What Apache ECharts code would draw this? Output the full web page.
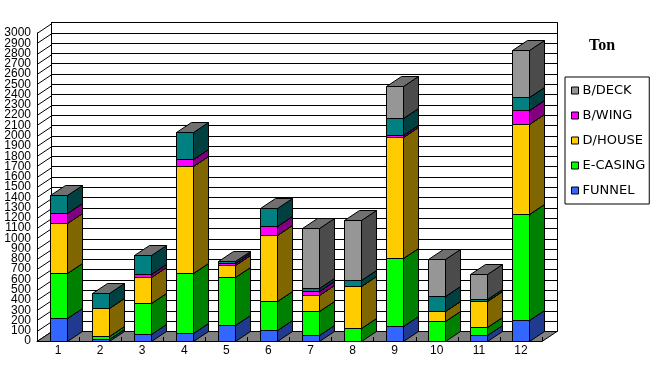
<!DOCTYPE html>
<html>
<head>
<meta charset="utf-8">
<title>Ton</title>
<style>
  html, body { margin: 0; padding: 0; background: #fff; }
  #main { width: 657px; height: 379px; }
</style>
<script src="https://cdn.jsdelivr.net/npm/echarts@6/dist/echarts.min.js"></script>
</head>
<body>
<div id="main"></div>
<script>
const categories = ['1', '2', '3', '4', '5', '6', '7', '8', '9', '10', '11', '12'];

// segment heights, bottom of the stack first
const funnel = [228, 20, 72, 81, 159, 111, 62, 0, 150, 0, 62, 208];
const eCasing = [439, 32, 302, 586, 469, 282, 234, 130, 663, 198, 78, 1025];
const dHouse = [478, 273, 254, 1034, 110, 644, 156, 407, 1171, 98, 253, 884];
const bWing = [97, 0, 29, 69, 23, 85, 39, 0, 23, 0, 0, 137];
const bTeal = [176, 147, 185, 263, 23, 169, 23, 61, 161, 143, 20, 123];
const bDeck = [0, 0, 0, 0, 0, 0, 582, 579, 320, 364, 244, 462];

const yMax = 3000;
const yStep = 100;
const yEndLabels = [0, 3000];

// the teal block has no name of its own in the legend of the original
const parts = [
  { name: 'FUNNEL', values: funnel, front: '#3366ff', side: '#1f3a8f' },
  { name: 'E-CASING', values: eCasing, front: '#00ff00', side: '#008000' },
  { name: 'D/HOUSE', values: dHouse, front: '#ffcc00', side: '#806600' },
  { name: 'B/WING', values: bWing, front: '#ff00ff', side: '#800080' },
  { name: '', values: bTeal, front: '#008080', side: '#004040' },
  { name: 'B/DECK', values: bDeck, front: '#969696', side: '#4b4b4b' }
];
const legendNames = ['B/DECK', 'B/WING', 'D/HOUSE', 'E-CASING', 'FUNNEL'];

const depthX = 15;
const depthY = 10;
const barWidth = 17;
const topColor = '#707070';
const edge = { stroke: '#000', lineWidth: 1 };

const chart = echarts.init(document.getElementById('main'));

function poly(points, fill) {
  return { type: 'polygon', shape: { points }, style: { fill, ...edge } };
}

function barItem(part) {
  return function (params, api) {
    const base = api.value(1);
    const top = api.value(2);
    if (top <= base) return { type: 'group', children: [] };
    const p0 = api.coord([api.value(0), base]);
    const p1 = api.coord([api.value(0), top]);
    const x0 = Math.round(p0[0] - barWidth / 2) + 0.5;
    const x1 = x0 + barWidth;
    const y0 = Math.round(p0[1]) + 0.5;
    const y1 = Math.round(p1[1]) + 0.5;
    return {
      type: 'group',
      children: [
        poly([[x1, y0], [x1 + depthX, y0 - depthY], [x1 + depthX, y1 - depthY], [x1, y1]], part.side),
        poly([[x0, y1], [x0 + depthX, y1 - depthY], [x1 + depthX, y1 - depthY], [x1, y1]], topColor),
        poly([[x0, y0], [x1, y0], [x1, y1], [x0, y1]], part.front)
      ]
    };
  };
}

function floorItem(params, api) {
  const band = api.size([1, 0])[0];
  const y = api.coord([0, 0])[1] + 0.5;
  const left = api.coord([0, 0])[0] - band / 2;
  const right = api.coord([categories.length - 1, 0])[0] + band / 2;
  return poly([[left, y], [right, y], [right + depthX, y - depthY], [left + depthX, y - depthY]], '#808080');
}

function sideLineItem(params, api) {
  const band = api.size([1, 0])[0];
  const p = api.coord([0, api.value(1)]);
  const x = p[0] - band / 2;
  const y = Math.round(p[1]) + 0.5;
  return { type: 'line', shape: { x1: x, y1: y, x2: x + depthX, y2: y - depthY }, style: edge };
}

const tickValues = [];
for (let v = 0; v <= yMax; v += yStep) tickValues.push([0, v]);

const running = categories.map(() => 0);
const barSeries = parts.map((part) => ({
  name: part.name,
  type: 'custom',
  xAxisIndex: 0,
  yAxisIndex: 0,
  itemStyle: { color: part.front },
  renderItem: barItem(part),
  encode: { x: 0, y: [1, 2] },
  data: part.values.map((v, i) => {
    const base = running[i];
    running[i] = base + v;
    return [i, base, running[i]];
  })
}));

const yLabelStyle = {
  color: '#000',
  margin: 6,
  fontFamily: 'Liberation Sans',
  fontSize: 12,
  formatter: (v) => String(v)
};

chart.setOption({
  animation: false,
  backgroundColor: '#fff',
  title: {
    text: 'Ton',
    left: 584,
    top: 33,
    textStyle: { fontFamily: 'Liberation Serif', fontSize: 16, fontWeight: 'bold', color: '#000' }
  },
  legend: {
    orient: 'vertical',
    left: 565,
    top: 77,
    padding: [7, 4, 7, 6],
    itemWidth: 7,
    itemHeight: 7,
    itemGap: 12,
    borderColor: '#000',
    borderWidth: 1,
    data: legendNames,
    icon: 'rect',
    itemStyle: { borderColor: '#000', borderWidth: 1 },
    textStyle: { fontFamily: 'DejaVu Sans', fontSize: 13, color: '#000', padding: [0, 0, 0, -1] }
  },
  grid: [
    { left: 37, width: 505, top: 33, bottom: 38, outerBoundsMode: 'none' },
    { left: 51.5, right: 99.5, top: 22.5, bottom: 47.5, outerBoundsMode: 'none', show: true, borderColor: '#000', borderWidth: 1 }
  ],
  xAxis: [
    {
      type: 'category',
      gridIndex: 0,
      data: categories,
      z: 5,
      axisLine: { show: true, lineStyle: { color: '#000', width: 1 } },
      axisTick: { show: true, inside: true, length: 4, lineStyle: { color: '#000' } },
      axisLabel: { color: '#000', margin: 4, fontFamily: 'Liberation Sans', fontSize: 12 }
    },
    { type: 'category', gridIndex: 1, data: categories, show: false }
  ],
  yAxis: [
    {
      type: 'value',
      gridIndex: 0,
      min: 0,
      max: yMax,
      interval: yStep,
      splitLine: { show: false },
      axisLine: { show: true, lineStyle: { color: '#000', width: 1 } },
      axisTick: { show: false },
      axisLabel: { ...yLabelStyle, showMinLabel: false, showMaxLabel: false }
    },
    {
      type: 'value',
      gridIndex: 1,
      min: 0,
      max: yMax,
      interval: yStep,
      axisLine: { show: true, lineStyle: { color: '#000', width: 1 } },
      axisTick: { show: false },
      axisLabel: { show: false },
      splitLine: { show: true, lineStyle: { color: '#000', width: 1 } }
    },
    // the end labels sit on their own axis, otherwise echarts drops their neighbours
    {
      type: 'value',
      gridIndex: 0,
      position: 'left',
      min: 0,
      max: yMax,
      splitLine: { show: false },
      axisLine: { show: false },
      axisTick: { show: false },
      axisLabel: { ...yLabelStyle, customValues: yEndLabels }
    }
  ],
  series: [
    { type: 'custom', silent: true, xAxisIndex: 0, yAxisIndex: 0, renderItem: sideLineItem, encode: { x: 0, y: 1 }, data: tickValues },
    { type: 'custom', silent: true, xAxisIndex: 0, yAxisIndex: 0, renderItem: floorItem, encode: { x: 0, y: 1 }, data: [[0, 0]] },
    ...barSeries
  ]
});
</script>
</body>
</html>
